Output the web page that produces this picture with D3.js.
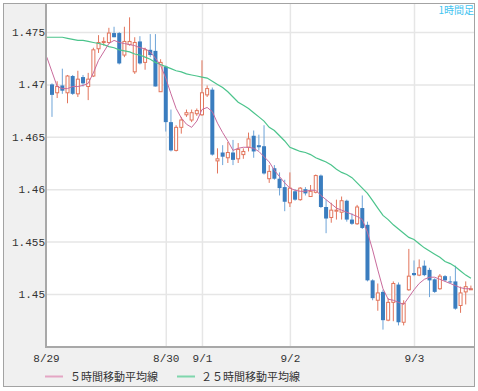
<!DOCTYPE html>
<html><head><meta charset="utf-8">
<script src="https://cdn.jsdelivr.net/npm/d3@7"></script>
<style>body{margin:0;background:#fff} svg{display:block}</style>
</head><body><svg id="c" width="478" height="391"></svg>
<script>
const opens = [
 1.4700,1.4692,1.4699,1.4692,1.4708,1.4691,1.4707,1.4698,1.4708,1.4734,
 1.4740,1.4740,1.4749,1.4749,1.4728,1.4738,1.4712,1.4741,1.4721,1.4733,
 1.4732,1.4693,1.4717,1.4664,1.4637,1.4659,1.4671,1.4666,1.4672,1.4671,
 1.4690,1.4695,1.4627,1.4635,1.4630,1.4635,1.4629,1.4633,1.4640,1.4651,
 1.4642,1.4641,1.4610,1.4620,1.4610,1.4602,1.4587,1.4598,1.4590,1.4600,
 1.4593,1.4597,1.4613,1.4583,1.4573,1.4579,1.4578,1.4589,1.4571,1.4567,
 1.4582,1.4566,1.4513,1.4494,1.4502,1.4475,1.4492,1.4509,1.4473,1.4504,
 1.4520,1.4518,1.4527,1.4523,1.4514,1.4505,1.4517,1.4512,1.4512,1.4489,
 1.4502,1.4504];
const highs = [
 1.4701,1.4703,1.4715,1.4709,1.4709,1.4713,1.4709,1.4711,1.4735,1.4747,
 1.4745,1.4754,1.4755,1.4750,1.4755,1.4764,1.4745,1.4746,1.4735,1.4748,
 1.4748,1.4724,1.4718,1.4676,1.4661,1.4669,1.4676,1.4676,1.4677,1.4723,
 1.4699,1.4697,1.4639,1.4642,1.4645,1.4647,1.4644,1.4639,1.4654,1.4656,
 1.4652,1.4661,1.4623,1.4623,1.4616,1.4609,1.4616,1.4600,1.4602,1.4602,
 1.4604,1.4614,1.4614,1.4590,1.4587,1.4590,1.4593,1.4590,1.4577,1.4585,
 1.4594,1.4569,1.4514,1.4510,1.4504,1.4496,1.4512,1.4511,1.4494,1.4543,
 1.4532,1.4533,1.4532,1.4525,1.4515,1.4519,1.4518,1.4517,1.4527,1.4507,
 1.4512,1.4508];
const lows = [
 1.4669,1.4687,1.4691,1.4682,1.4690,1.4688,1.4698,1.4685,1.4707,1.4730,
 1.4737,1.4739,1.4745,1.4719,1.4726,1.4737,1.4710,1.4719,1.4714,1.4726,
 1.4698,1.4693,1.4655,1.4636,1.4636,1.4653,1.4669,1.4664,1.4670,1.4670,
 1.4688,1.4632,1.4615,1.4623,1.4625,1.4623,1.4625,1.4629,1.4636,1.4630,
 1.4637,1.4614,1.4606,1.4609,1.4594,1.4579,1.4583,1.4589,1.4589,1.4594,
 1.4593,1.4596,1.4582,1.4558,1.4568,1.4571,1.4571,1.4569,1.4566,1.4566,
 1.4562,1.4512,1.4494,1.4484,1.4466,1.4474,1.4474,1.4470,1.4470,1.4503,
 1.4517,1.4517,1.4517,1.4497,1.4501,1.4504,1.4512,1.4510,1.4485,1.4482,
 1.4490,1.4504];
const closes = [
 1.4690,1.4698,1.4694,1.4708,1.4691,1.4705,1.4701,1.4705,1.4733,1.4740,
 1.4741,1.4749,1.4745,1.4720,1.4741,1.4741,1.4740,1.4720,1.4733,1.4728,
 1.4698,1.4721,1.4664,1.4637,1.4659,1.4666,1.4673,1.4673,1.4675,1.4692,
 1.4696,1.4633,1.4629,1.4631,1.4635,1.4628,1.4638,1.4636,1.4648,1.4636,
 1.4640,1.4615,1.4617,1.4610,1.4601,1.4588,1.4601,1.4590,1.4601,1.4596,
 1.4598,1.4613,1.4583,1.4572,1.4580,1.4580,1.4589,1.4571,1.4567,1.4583,
 1.4563,1.4513,1.4496,1.4501,1.4475,1.4492,1.4510,1.4473,1.4491,1.4517,
 1.4518,1.4525,1.4518,1.4513,1.4502,1.4517,1.4513,1.4511,1.4486,1.4501,
 1.4507,1.4505];
// moving averages, starting one hour before the first candle (index -1)
const maStartIndex = -1;
const ma5 = [
 1.4726,1.4712,1.4698,1.4696,1.4696,1.4698,1.4698,1.4699,1.4701,1.4711,
 1.4723,1.4731,1.4739,1.4742,1.4740,1.4739,1.4738,1.4737,1.4735,1.4734,
 1.4731,1.4725,1.4718,1.4706,1.4691,1.4677,1.4668,1.4662,1.4659,1.4665,
 1.4676,1.4678,1.4674,1.4663,1.4654,1.4646,1.4637,1.4639,1.4640,1.4640,
 1.4639,1.4636,1.4631,1.4626,1.4618,1.4612,1.4606,1.4601,1.4599,1.4598,
 1.4598,1.4599,1.4599,1.4594,1.4590,1.4586,1.4582,1.4580,1.4578,1.4576,
 1.4574,1.4571,1.4559,1.4542,1.4523,1.4505,1.4495,1.4494,1.4492,1.4490,
 1.4497,1.4504,1.4510,1.4514,1.4516,1.4516,1.4514,1.4512,1.4510,1.4508,
 1.4506,1.4505,1.4505];
const ma25 = [
 1.4745,1.4745,1.4745,1.4745,1.4744,1.4743,1.4742,1.4742,1.4741,1.4740,
 1.4739,1.4738,1.4736,1.4735,1.4733,1.4732,1.4731,1.4729,1.4728,1.4726,
 1.4724,1.4721,1.4719,1.4717,1.4715,1.4713,1.4712,1.4710,1.4709,1.4708,
 1.4707,1.4706,1.4703,1.4700,1.4697,1.4693,1.4688,1.4683,1.4680,1.4677,
 1.4673,1.4669,1.4665,1.4659,1.4656,1.4651,1.4646,1.4640,1.4638,1.4636,
 1.4635,1.4633,1.4630,1.4628,1.4626,1.4623,1.4619,1.4616,1.4614,1.4611,
 1.4606,1.4601,1.4596,1.4589,1.4582,1.4575,1.4571,1.4566,1.4562,1.4558,
 1.4554,1.4552,1.4548,1.4544,1.4541,1.4538,1.4535,1.4531,1.4529,1.4526,
 1.4522,1.4518,1.4515];
const yTicks = [1.45, 1.455, 1.46, 1.465, 1.47, 1.475];
const yTickLabels = ["1.45", "1.455", "1.46", "1.465", "1.47", "1.475"];
const dateLabels = ["8/29", "8/30", "9/1", "9/2", "9/3"];
const dateIndex = [-1.16, 22, 29, 46, 70];
const legendLabels = ["５時間移動平均線", "２５時間移動平均線"];
const periodLabel = "1時間足";

const L = 46, R = 474, T = 4, B = 347;
const svg = d3.select("#c");
const x = d3.scaleLinear().domain([-1.16, 81.6]).range([L, R]);
const y = d3.scaleLinear().domain([1.44494, 1.47772]).range([B, 3.5]);

const colUp = "#e2755c", colDown = "#3a7dbf", colDownWick = "#6ea4d8";
const colMa5 = "#c96b9c", colMa25 = "#4cc48c";

// frame
svg.append("rect").attr("x", 3.5).attr("y", 3.5).attr("width", 471).attr("height", 383)
  .attr("fill", "#f0f0f0").attr("stroke", "#a3a3a3");
svg.append("rect").attr("x", L).attr("y", T).attr("width", R - L).attr("height", B - T).attr("fill", "#fff");

// y grid + labels
const yAxis = svg.append("g").attr("transform", `translate(${L},0)`)
  .call(d3.axisLeft(y).tickValues(yTicks).tickSize(-(R - L)).tickPadding(1)
    .tickFormat((d, i) => yTickLabels[i]));
yAxis.select(".domain").remove();
yAxis.selectAll("line").attr("stroke", "#e6e6e6").attr("stroke-width", 1.5);
yAxis.selectAll("text").attr("font-family", "Liberation Mono, DejaVu Sans Mono, monospace")
  .attr("font-size", 11).attr("fill", "#333");

// x grid + labels
const xAxis = svg.append("g").attr("transform", `translate(0,${B})`)
  .call(d3.axisBottom(x).tickValues(dateIndex).tickSize(-(B - T)).tickPadding(7)
    .tickFormat((d, i) => dateLabels[i]));
xAxis.select(".domain").remove();
xAxis.selectAll("line").attr("stroke", (d, i) => i === 0 ? "none" : "#e6e6e6").attr("stroke-width", 1.5);
xAxis.selectAll("text").attr("font-family", "Liberation Mono, DejaVu Sans Mono, monospace")
  .attr("font-size", 11).attr("fill", "#333");

// axis lines
svg.append("line").attr("x1", L).attr("x2", L).attr("y1", 3.5).attr("y2", B + 1)
  .attr("stroke", "#a8a8a8").attr("stroke-width", 2);
svg.append("line").attr("x1", L - 1).attr("x2", R + 0.5).attr("y1", B).attr("y2", B)
  .attr("stroke", "#a8a8a8").attr("stroke-width", 2);

// clip
svg.append("clipPath").attr("id", "clip").append("rect")
  .attr("x", L + 1).attr("y", T).attr("width", R - L - 1).attr("height", B - T - 1);
const plot = svg.append("g").attr("clip-path", "url(#clip)");

const candles = opens.map((o, i) => ({ i, o, h: highs[i], l: lows[i], c: closes[i] }));
const g = plot.selectAll("g.cd").data(candles).enter().append("g").attr("class", "cd");
g.append("line")
  .attr("x1", d => x(d.i)).attr("x2", d => x(d.i))
  .attr("y1", d => y(d.h)).attr("y2", d => y(d.l))
  .attr("stroke", d => d.c >= d.o ? colUp : colDownWick).attr("stroke-width", 1);
g.append("rect")
  .attr("x", d => d.c >= d.o ? x(d.i) - 1.5 : x(d.i) - 2)
  .attr("width", d => d.c >= d.o ? 3 : 4)
  .attr("y", d => Math.min(y(d.o), y(d.c)))
  .attr("height", d => Math.max(1, Math.abs(y(d.o) - y(d.c))))
  .attr("fill", d => d.c >= d.o ? "#fff" : colDown)
  .attr("stroke", d => d.c >= d.o ? colUp : "none").attr("stroke-width", 1);

const line = d3.line().x((d, k) => x(k + maStartIndex)).y(d => y(d));
plot.append("path").datum(ma25).attr("d", line).attr("fill", "none").attr("stroke", colMa25).attr("stroke-width", 1.2);
plot.append("path").datum(ma5).attr("d", line).attr("fill", "none").attr("stroke", colMa5).attr("stroke-width", 1);

// period label
svg.append("text").attr("x", 474).attr("y", 13.5).attr("text-anchor", "end")
  .attr("font-family", "Noto Sans CJK JP, sans-serif").attr("font-size", 10).attr("fill", "#3fc3f0")
  .text(periodLabel);

// legend
const legX = [45, 177], legTX = [70, 201], legC = ["#e4a6c4", "#7fd6ac"];
legendLabels.forEach((t, k) => {
  svg.append("line").attr("x1", legX[k]).attr("x2", legX[k] + 18).attr("y1", 376.5).attr("y2", 376.5)
    .attr("stroke", legC[k]).attr("stroke-width", 2);
  svg.append("text").attr("x", legTX[k]).attr("y", 380.5)
    .attr("font-family", "Noto Sans CJK JP, sans-serif").attr("font-size", 11).attr("fill", "#333")
    .text(t);
});
</script></body></html>
